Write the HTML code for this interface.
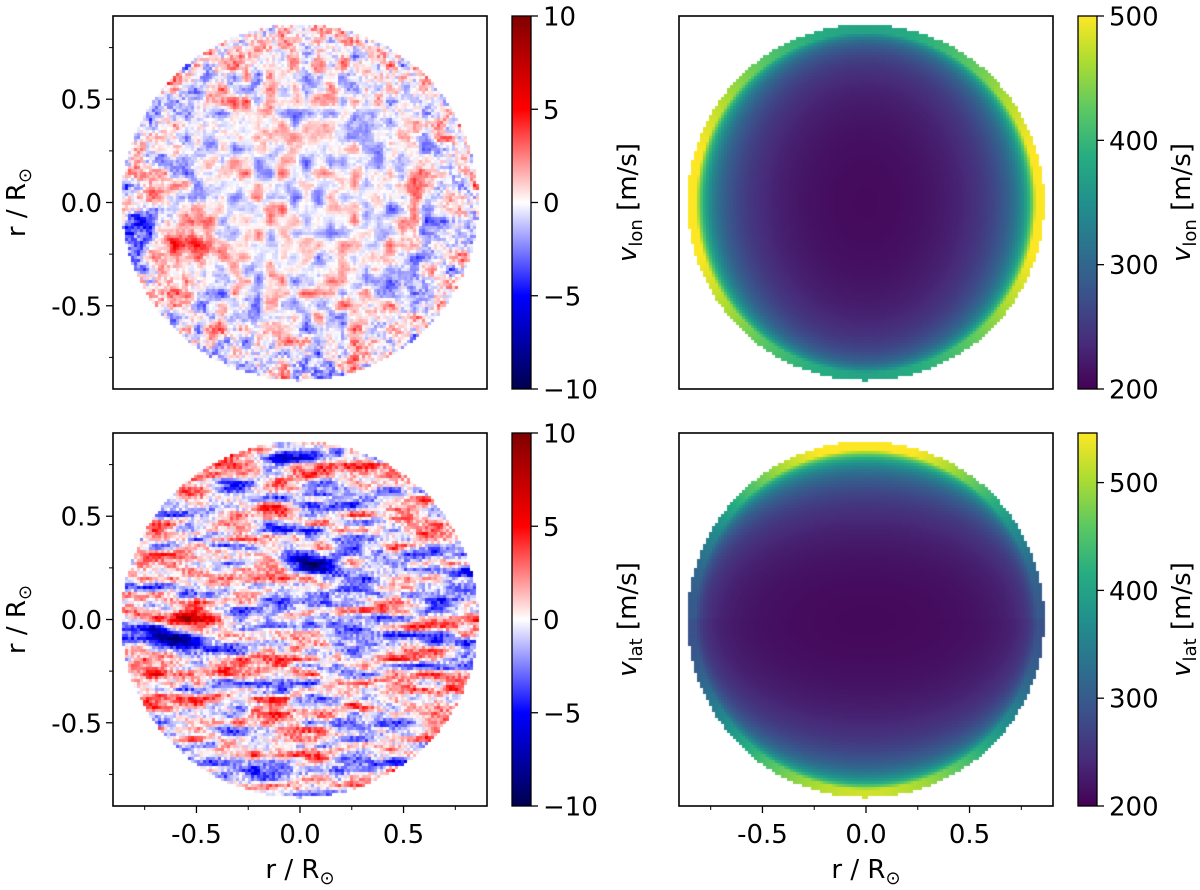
<!DOCTYPE html>
<html>
<head>
<meta charset="utf-8">
<style>
html,body{margin:0;padding:0;background:#fff;}
#fig{position:relative;width:1200px;height:890px;overflow:hidden;font-family:"DejaVu Sans","Liberation Sans",sans-serif;}
canvas{position:absolute;}
svg{position:absolute;left:0;top:0;}
</style>
</head>
<body>
<div id="fig">
<canvas id="c0" width="374" height="373" style="left:113px;top:16px"></canvas>
<canvas id="c1" width="374" height="373" style="left:679px;top:16px"></canvas>
<canvas id="c2" width="374" height="373" style="left:113px;top:433px"></canvas>
<canvas id="c3" width="374" height="373" style="left:679px;top:433px"></canvas>
<svg id="ov" width="1200" height="890"></svg>
</div>
<script>
// ---- data / ticks ----
const xMajorTicks = [-0.5, 0.0, 0.5];
const xMinorTicks = [-0.75, -0.25, 0.25, 0.75];
const yMajorTicks = [0.5, 0.0, -0.5];
const yMinorTicks = [0.75, 0.25, -0.25, -0.75];
const xTickLabels = ["-0.5", "0.0", "0.5"];
const seismicTicks = [10, 5, 0, -5, -10];
const seismicLabels = ["10", "5", "0", "\u22125", "\u221210"];
const vlonTicks = [200, 300, 400, 500];
const vlatTicks = [200, 300, 400, 500];
const seismicRange = [-10, 10];
const vlonRange = [200, 500];
const vlatRange = [200, 546];
const diskRadius = 0.862;
const axisExtent = 0.903;

const NS = "http://www.w3.org/2000/svg";
const ov = document.getElementById('ov');
const W = 374, H = 373;
const panels = [
  {x0:113, y0:16, cb:512, row:0, col:0},
  {x0:679, y0:16, cb:1078, row:0, col:1},
  {x0:113, y0:433, cb:512, row:1, col:0},
  {x0:679, y0:433, cb:1078, row:1, col:1}
];
function sx(p,u){ return p.x0 + (u + axisExtent)/(2*axisExtent)*W; }
function sy(p,v){ return p.y0 + (axisExtent - v)/(2*axisExtent)*H; }

function mk(tag, attrs){ const e=document.createElementNS(NS,tag); for(const k in attrs) e.setAttribute(k,attrs[k]); ov.appendChild(e); return e; }

// ---- colormaps ----
const viridisStops = [[68,1,84],[71,44,122],[59,81,139],[44,113,142],[33,144,141],[39,173,129],[92,200,99],[170,220,50],[253,231,37]];
const seismicStops = [[0,0,77],[0,0,255],[255,255,255],[255,0,0],[128,0,0]];
function cmap(stops,t){ t=Math.max(0,Math.min(1,t)); const n=stops.length-1; const f=t*n; const i=Math.min(n-1,Math.floor(f)); const r=f-i; const a=stops[i],b=stops[i+1]; return [a[0]+(b[0]-a[0])*r, a[1]+(b[1]-a[1])*r, a[2]+(b[2]-a[2])*r]; }

// ---- deterministic texture noise ----
function hash(i,j,s){ let h=(Math.imul(i,374761393)+Math.imul(j,668265263)+Math.imul(s,1442695041))|0; h=Math.imul(h^(h>>>13),1274126177); h^=h>>>16; return (h>>>0)/4294967295*2-1; }
function sm(t){ return t*t*(3-2*t); }
function vn(x,y,s){ const i=Math.floor(x), j=Math.floor(y); const fx=sm(x-i), fy=sm(y-j);
  const a=hash(i,j,s), b=hash(i+1,j,s), c=hash(i,j+1,s), d=hash(i+1,j+1,s);
  return (a+(b-a)*fx)+((c+(d-c)*fx)-(a+(b-a)*fx))*fy; }
function g2(u,v,cu,cv,su,sv,ang){ const ca=Math.cos(ang), sa=Math.sin(ang); const du=u-cu, dv=v-cv; const a=du*ca+dv*sa, b=-du*sa+dv*ca; return Math.exp(-(a*a)/(2*su*su)-(b*b)/(2*sv*sv)); }

function fieldTL(u,v,px,py,rho){
  let val = 2.6*vn(px/12,py/12,1) + 1.1*vn(px/6,py/6,2) + (0.3+1.4*rho*rho*rho)*hash(px/3|0,py/3|0,7);
  val += -4*g2(u,v,-0.78,-0.1,0.05,0.12,0) + 4*g2(u,v,-0.55,-0.2,0.08,0.05,0) + 3*g2(u,v,-0.72,0.05,0.04,0.06,0);
  return val;
}
function fieldBL(u,v,px,py,rho){
  let val = 4.2*vn(px/40,py/8,3) + 2.2*vn(px/14,py/5,4) + 1.3*hash(px/3|0,py/3|0,9);
  val += -11*g2(u,v,-0.6,-0.1,0.14,0.035,-0.15) + 7*g2(u,v,-0.62,0.0,0.16,0.03,-0.12);
  val += -6*g2(u,v,0.0,0.3,0.1,0.04,-0.5) + 5*g2(u,v,-0.1,0.85,0.12,0.03,0) - 5*g2(u,v,-0.05,0.82,0.1,0.03,0);
  return val;
}
function fieldTR(u,v,rho,phi){
  const mu=Math.max(0.3,Math.sqrt(Math.max(0,1-rho*rho)));
  const c=Math.cos(phi); const k=72+58*c*c;
  return 208 + k*(1/mu-1);
}
function fieldBR(u,v,rho,phi){
  const mu=Math.max(0.3,Math.sqrt(Math.max(0,1-rho*rho)));
  const s=Math.sin(phi); let k=38+115*s*s; if(v<0) k*=0.88;
  return 208 + k*(1/mu-1);
}

function drawMap(id,fn,stops,range){
  const cv=document.getElementById(id); const ctx=cv.getContext('2d');
  const img=ctx.createImageData(W,H); const d=img.data;
  for(let i=0;i<d.length;i+=4){d[i]=255;d[i+1]=255;d[i+2]=255;d[i+3]=255;}
  const cell=3;
  for(let py=0;py<H;py+=cell){ for(let px=0;px<W;px+=cell){
    const u=((px+cell/2)/W)*2*axisExtent-axisExtent, v=axisExtent-((py+cell/2)/H)*2*axisExtent;
    const rho=Math.sqrt(u*u+v*v)/diskRadius; if(rho>1) continue;
    const phi=Math.atan2(v,u);
    const val=fn(u,v,px,py,rho,phi);
    const col=cmap(stops,(val-range[0])/(range[1]-range[0]));
    for(let yy=py;yy<Math.min(H,py+cell);yy++) for(let xx=px;xx<Math.min(W,px+cell);xx++){
      const k=(yy*W+xx)*4; d[k]=col[0]; d[k+1]=col[1]; d[k+2]=col[2]; }
  }}
  ctx.putImageData(img,0,0);
}
drawMap('c0',(u,v,px,py,rho)=>fieldTL(u,v,px,py,rho),seismicStops,seismicRange);
drawMap('c2',(u,v,px,py,rho)=>fieldBL(u,v,px,py,rho),seismicStops,seismicRange);
drawMap('c1',(u,v,px,py,rho,phi)=>fieldTR(u,v,rho,phi),viridisStops,vlonRange);
drawMap('c3',(u,v,px,py,rho,phi)=>fieldBR(u,v,rho,phi),viridisStops,vlatRange);

// ---- gradients for colorbars ----
const defs=mk('defs',{});
function grad(id,stops){ const g=document.createElementNS(NS,'linearGradient'); g.setAttribute('id',id); g.setAttribute('x1','0');g.setAttribute('y1','1');g.setAttribute('x2','0');g.setAttribute('y2','0');
  stops.forEach((c,i)=>{ const s=document.createElementNS(NS,'stop'); s.setAttribute('offset',(i/(stops.length-1)).toString()); s.setAttribute('stop-color',`rgb(${c.join(',')})`); g.appendChild(s);}); defs.appendChild(g); }
grad('gSeis',seismicStops); grad('gVir',viridisStops);

const FS=26;
panels.forEach((p,pi)=>{
  const fr=mk('rect',{x:p.x0,y:p.y0,width:W,height:H,fill:'none',stroke:'#000','stroke-width':1.6});
  
  
  if(p.col===0){
    yMajorTicks.forEach((t,i)=>{ const y=sy(p,t);
      const l=mk('line',{x1:p.x0-7,x2:p.x0,y1:y,y2:y,stroke:'#000','stroke-width':1.3});
       
      const tx=mk('text',{x:p.x0-11,y:y+9.5,'text-anchor':'end','font-size':FS,fill:'#000'}); tx.textContent=(t===0?"0.0":(t>0?t.toFixed(1):"-"+Math.abs(t).toFixed(1)));
        });
    yMinorTicks.forEach(t=>{ const y=sy(p,t); const l=mk('line',{x1:p.x0-4,x2:p.x0,y1:y,y2:y,stroke:'#000','stroke-width':1});
        });
    const yl=mk('text',{x:0,y:0,'text-anchor':'middle','font-size':FS,fill:'#000',transform:`translate(${p.x0-88},${p.y0+H/2}) rotate(-90)`});
    yl.innerHTML='r / R<tspan font-size="18" dy="6">\u2299</tspan>';
     
  }
  if(p.row===1){
    xMajorTicks.forEach((t,i)=>{ const x=sx(p,t);
      const l=mk('line',{x1:x,x2:x,y1:p.y0+H,y2:p.y0+H+7,stroke:'#000','stroke-width':1.3});
       
      const tx=mk('text',{x:x,y:p.y0+H+37,'text-anchor':'middle','font-size':FS,fill:'#000'}); tx.textContent=xTickLabels[i];
        });
    xMinorTicks.forEach(t=>{ const x=sx(p,t); const l=mk('line',{x1:x,x2:x,y1:p.y0+H,y2:p.y0+H+4,stroke:'#000','stroke-width':1});
        });
    const xl=mk('text',{x:p.x0+W/2,y:p.y0+H+72,'text-anchor':'middle','font-size':FS,fill:'#000'});
    xl.innerHTML='r / R<tspan font-size="18" dy="6">\u2299</tspan>';
     
  }
  const cbw=19;
  const cr=mk('rect',{x:p.cb,y:p.y0,width:cbw,height:H,fill:p.col===0?'url(#gSeis)':'url(#gVir)',stroke:'#000','stroke-width':1.3});
   
  let ticks, labels, range;
  if(p.col===0){ ticks=seismicTicks; labels=seismicLabels; range=seismicRange; }
  else { ticks=(p.row===0?vlonTicks:vlatTicks); labels=ticks.map(String); range=(p.row===0?vlonRange:vlatRange); }
  ticks.forEach((t,i)=>{ const y=p.y0+H-(t-range[0])/(range[1]-range[0])*H;
    const l=mk('line',{x1:p.cb+cbw,x2:p.cb+cbw+7,y1:y,y2:y,stroke:'#000','stroke-width':1.3});
     
    const tx=mk('text',{x:p.cb+cbw+12,y:y+9.5,'font-size':FS,fill:'#000'}); tx.textContent=labels[i];
      });
  const lx = p.col===0 ? 636 : 1190;
  const sub = p.row===0 ? 'lon' : 'lat';
  const cl=mk('text',{x:0,y:0,'text-anchor':'middle','font-size':FS,fill:'#000',transform:`translate(${lx},${p.y0+H/2}) rotate(-90)`});
  cl.innerHTML=`<tspan font-style="italic">v</tspan><tspan font-size="18" dy="6">${sub}</tspan><tspan dy="-6"> [m/s]</tspan>`;
   
});
</script>
</body>
</html>
